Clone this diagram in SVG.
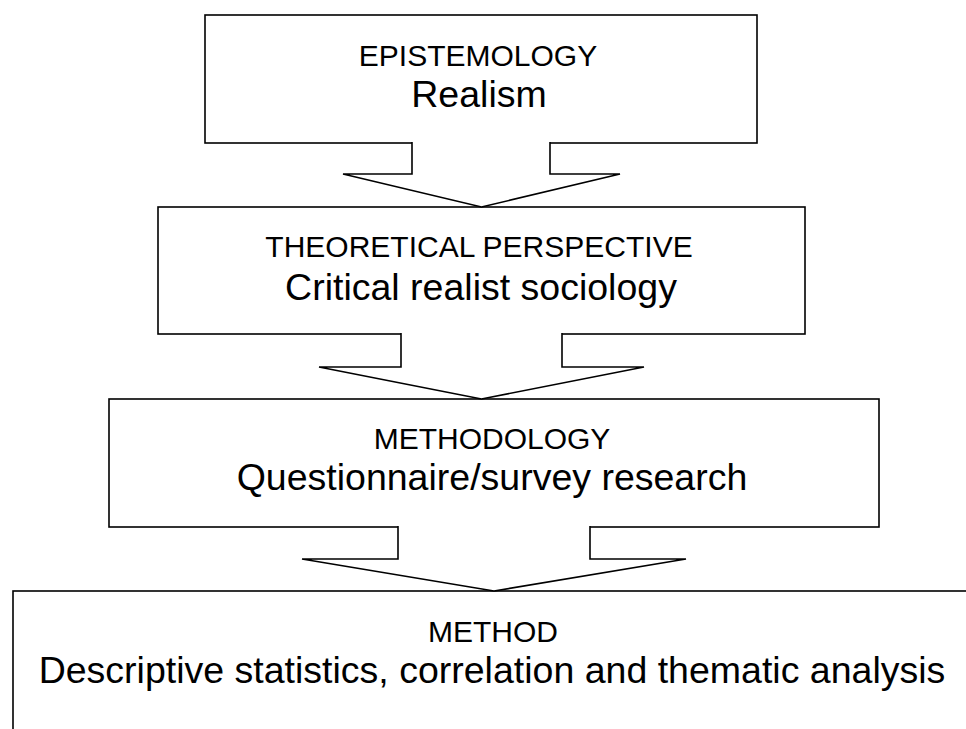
<svg xmlns="http://www.w3.org/2000/svg" width="966" height="729" viewBox="0 0 966 729">
<style>
.box{fill:#fff;stroke:#000;stroke-width:1.6}
.arrow{fill:#fff;stroke:#000;stroke-width:1.6;stroke-linejoin:miter}
text{font-family:"Liberation Sans",Arial,sans-serif;fill:#000;text-anchor:middle}
.h{font-size:30px}
.b{font-size:37.5px}
</style>
<rect width="966" height="729" fill="#fff"/>
<g id="epistemology">
<rect class="box" x="205" y="15" width="552" height="128"/>
<text class="h" x="478" y="66">EPISTEMOLOGY</text>
<text class="b" x="479" y="107">Realism</text>
</g>
<g id="theoretical-perspective">
<rect class="box" x="158" y="207" width="647" height="127"/>
<text class="h" x="479" y="257">THEORETICAL PERSPECTIVE</text>
<text class="b" x="481" y="300">Critical realist sociology</text>
</g>
<g id="methodology">
<rect class="box" x="109" y="399" width="770" height="128"/>
<text class="h" x="492" y="449">METHODOLOGY</text>
<text class="b" x="492" y="490">Questionnaire/survey research</text>
</g>
<g id="method">
<rect class="box" x="13" y="591" width="962" height="150"/>
<text class="h" x="493" y="642">METHOD</text>
<text class="b" x="492" y="683">Descriptive statistics, correlation and thematic analysis</text>
</g>
<g id="connectors">
<polyline class="arrow" points="412,142 412,174 343,174 481.5,207 620,174 550,174 550,142"/>
<polyline class="arrow" points="401,333 401,367 319,367 481.5,399 644,367 562,367 562,333"/>
<polyline class="arrow" points="398,526 398,559 302,559 494,591 686,559 590,559 590,526"/>
</g>
</svg>
